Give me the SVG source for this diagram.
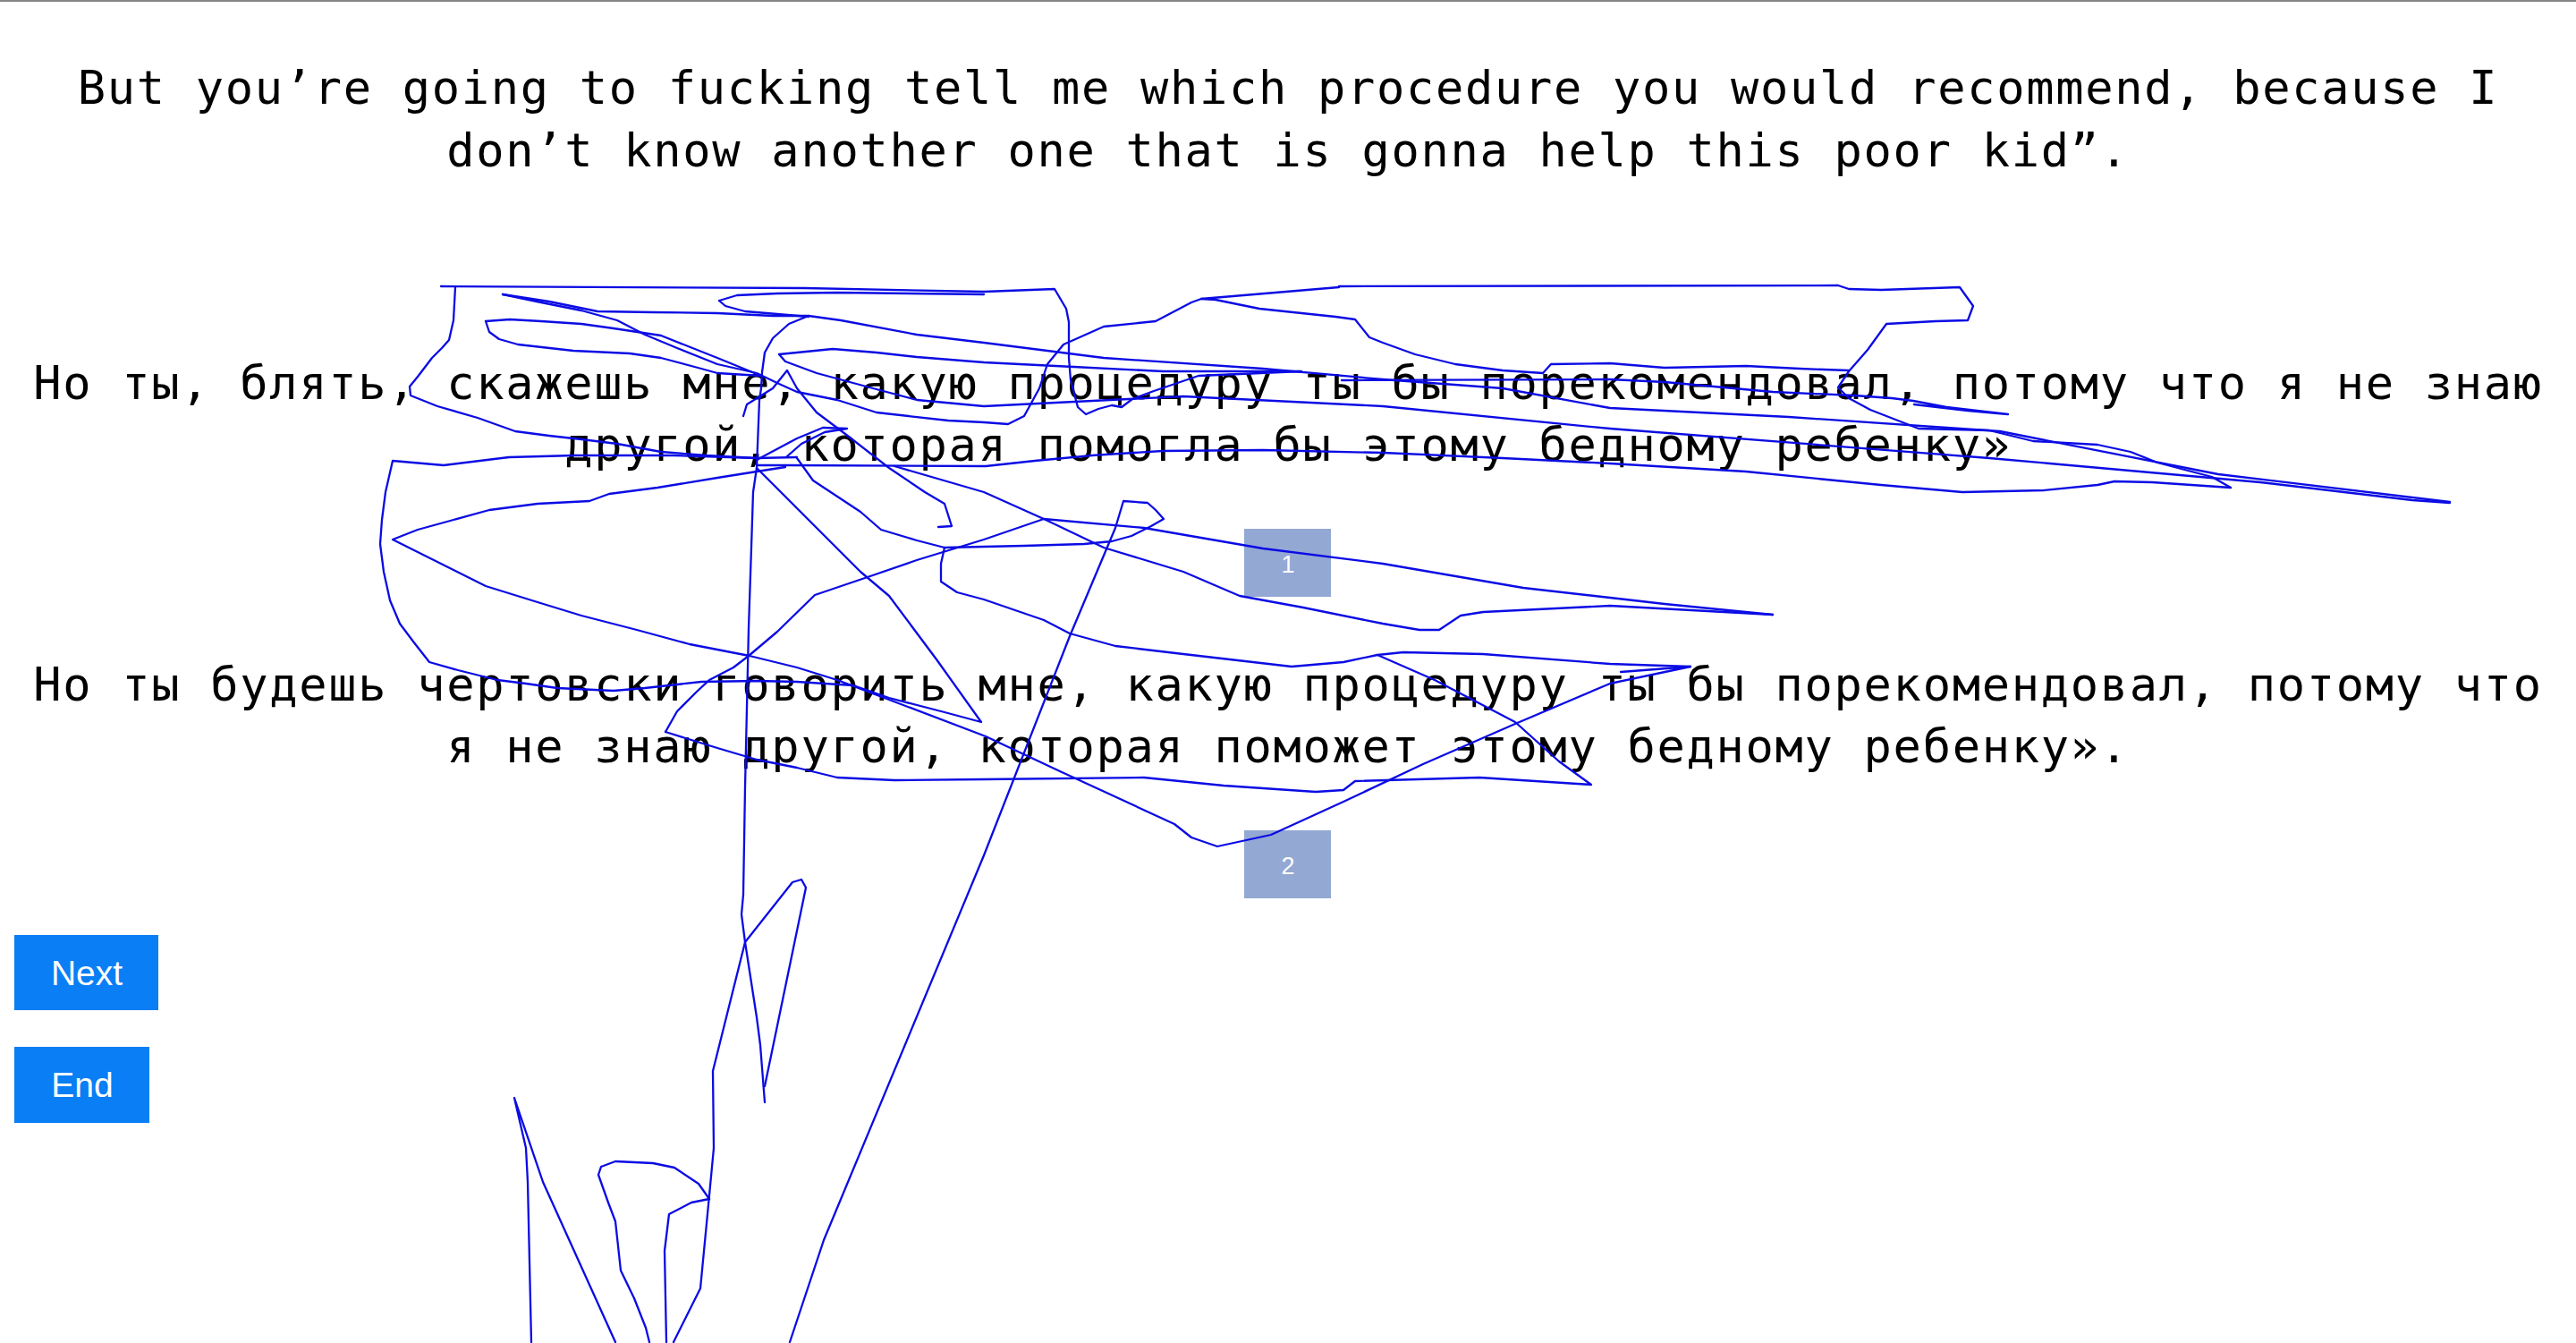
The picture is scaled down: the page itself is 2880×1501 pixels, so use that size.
<svg xmlns="http://www.w3.org/2000/svg" width="2880" height="1501" viewBox="0 0 2880 1501">
<style>
.t{font-family:"DejaVu Sans Mono","Liberation Mono",monospace;font-size:52px;letter-spacing:1.7px;fill:#000;text-anchor:middle}
.btn{fill:#0a7ef5}
.bt{font-family:"Liberation Sans",Arial,sans-serif;font-size:39px;fill:#fff;text-anchor:middle}
.box{fill:#93a8d3}
.bx{font-family:"Liberation Sans",Arial,sans-serif;font-size:27px;fill:#fff;text-anchor:middle}
.s{fill:none;stroke:#0b0be4;stroke-width:2.3;stroke-linejoin:round;stroke-linecap:round}
</style>
<rect x="0" y="0" width="2880" height="1501" fill="#fff"/>
<rect x="0" y="0" width="2880" height="2" fill="#858585"/>
<g id="texts">
<text class="t" x="1440" y="116">But you’re going to fucking tell me which procedure you would recommend, because I</text>
<text class="t" x="1440" y="186">don’t know another one that is gonna help this poor kid”.</text>
<text class="t" x="1440" y="446">Но ты, блять, скажешь мне, какую процедуру ты бы порекомендовал, потому что я не знаю</text>
<text class="t" x="1440" y="515">другой, которая помогла бы этому бедному ребенку»</text>
<text class="t" x="1440" y="783">Но ты будешь чертовски говорить мне, какую процедуру ты бы порекомендовал, потому что</text>
<text class="t" x="1440" y="852">я не знаю другой, которая поможет этому бедному ребенку».</text>
</g>
<g id="box1"><rect class="box" x="1391" y="591" width="97" height="76"/><text class="bx" x="1440" y="640">1</text></g>
<g id="box2"><rect class="box" x="1391" y="928" width="97" height="76"/><text class="bx" x="1440" y="977">2</text></g>
<g id="next"><rect class="btn" x="16" y="1045" width="161" height="84"/><text class="bt" x="97" y="1101">Next</text></g>
<g id="end"><rect class="btn" x="16" y="1170" width="151" height="85"/><text class="bt" x="92" y="1226">End</text></g>
<g id="scribble">
<path class="s" d="M493,320 L900,322 L1100,326 L1179,323 L1192,345 L1195,360 L1195,400 L1197,425 L1205,455 L1214,463 L1228,457 L1243,453 L1254,455 L1266,446 L1290,437 L1340,420 L1455,415"/>
<path class="s" d="M509,321 L507,358 L502,380 L494,389 L483,400 L467,421 L458,432 L459,442 L489,454 L534,467 L576,482 L614,487 L650,491 L690,496 L739,505 L790,509 L846,512 L891,511"/>
<path class="s" d="M846,512 L753,509 L643,509 L569,511 L496,520 L439,515 L431,550 L427,581 L425,608 L429,639 L436,671 L447,697 L462,717 L480,740 L512,749 L556,760 L588,764 L623,769 L686,772 L721,769 L757,765 L784,762 L846,761 L891,762 L954,766 L994,780 L1056,796 L1097,807 L1047,737 L994,666 L962,639 L913,590 L873,550 L846,523"/>
<path class="s" d="M846,520 L882,520 L1102,521 L1157,515 L1221,509 L1300,504 L1412,503 L1546,506 L1680,512 L1800,518 L1952,527 L2042,536 L2103,542 L2194,550 L2285,548 L2345,542 L2364,538 L2406,539 L2494,545"/>
<path class="s" d="M1497,320 L2055,319 L2067,323 L2103,324 L2191,321 L2206,342 L2200,358 L2164,359 L2109,362 L2088,391 L2067,415 L2055,433 L2067,445 L2091,458 L2145,479 L2224,481 L2273,493 L2345,497 L2382,505 L2412,517 L2473,533 L2494,545"/>
<path class="s" d="M878,522 L846,527 L802,534 L735,545 L681,552 L659,560 L601,563 L547,570 L507,581 L467,592 L439,603 L467,617 L503,635 L543,655 L601,673 L650,688 L712,704 L771,720 L838,733 L891,746 L936,760 L994,782 L1102,823 L1185,862 L1313,921 L1332,936 L1361,946 L1421,933 L1502,896 L1591,854 L1694,809 L1800,764 L1890,745 L1812,751"/>
<path class="s" d="M744,818 L757,795 L779,773 L793,760 L820,746 L837,733 L869,706 L911,665 L967,646 L1025,626 L1100,603 L1167,580 L1279,590 L1412,613 L1546,630 L1703,657 L1800,668 L1861,675 L1982,687"/>
<path class="s" d="M744,818 L802,836 L846,849 L891,858 L936,869 L1000,872 L1100,871 L1279,869 L1368,878 L1471,885 L1502,883 L1515,873 L1654,869 L1779,877 L1743,851 L1694,807 L1604,760 L1540,732 L1569,729 L1658,731 L1800,742 L1890,745"/>
<path class="s" d="M891,512 L909,537 L962,572 L985,592 L1025,604 L1056,612 L1100,611 L1145,610 L1212,608 L1243,605 L1265,599 L1287,588 L1301,580 L1292,570 L1283,562 L1256,560 L1247,590 L1196,711 L1100,956 L921,1386 L883,1500"/>
<path class="s" d="M1000,521 L1100,550 L1167,580 L1234,612 L1323,639 L1386,666 L1457,679 L1546,697 L1587,704 L1609,704 L1633,688 L1658,684 L1800,677 L1982,687"/>
<path class="s" d="M1056,612 L1052,630 L1052,650 L1070,662 L1100,670 L1167,693 L1196,708 L1247,722 L1323,731 L1444,745 L1502,740 L1540,732"/>
<path class="s" d="M904,353 L882,362 L864,378 L855,394 L852,416 L851,434 L849,447 L846,523 L842,550 L840,612 L837,702 L835,791 L833,880 L831,1000 L829,1022 L833,1053 L846,1137 L850,1168 L855,1232"/>
<path class="s" d="M855,1214 L901,992 L896,983 L886,986 L833,1053 L797,1197 L798,1283 L793,1336 L783,1440 L753,1500"/>
<path class="s" d="M793,1340 L781,1323 L754,1305 L730,1300 L688,1298 L672,1304 L669,1313 L680,1344 L688,1365 L694,1420 L709,1451 L722,1484 L726,1500"/>
<path class="s" d="M793,1340 L773,1344 L748,1357 L743,1398 L745,1500"/>
<path class="s" d="M594,1500 L590,1321 L588,1283 L575,1227 L607,1321 L688,1500"/>
<path class="s" d="M562,329 L614,337 L668,348 L730,349 L802,350 L864,353 L904,353 L940,358 L1025,374 L1100,383 L1234,400 L1412,412 L1546,424 L1680,434 L1800,456 L2000,466 L2236,482 L2480,530 L2739,561"/>
<path class="s" d="M562,329 L605,338 L650,347 L690,358 L721,374 L757,389 L802,407 L846,417 L871,429 L891,438 L936,447 L980,461 L1060,470 L1100,472 L1127,474 L1145,465 L1162,434 L1171,407 L1189,385 L1234,365 L1292,359 L1332,338 L1343,334 L1497,321"/>
<path class="s" d="M543,359 L570,357 L605,359 L650,362 L686,367 L739,375 L802,400 L851,420"/>
<path class="s" d="M543,359 L547,371 L558,379 L579,385 L641,392 L704,395 L739,400 L784,412 L802,417 L851,420"/>
<path class="s" d="M804,336 L824,330 L869,328 L936,327 L1100,329"/>
<path class="s" d="M804,336 L811,342 L833,348 L869,351 L904,354"/>
<path class="s" d="M871,396 L891,394 L931,390 L980,394 L1025,399 L1100,405 L1200,410 L1300,415 L1453,415"/>
<path class="s" d="M871,396 L878,404 L913,417 L976,434 L1025,447 L1100,454 L1323,443 L1546,454 L1800,479 L2224,512 L2527,539 L2697,559 L2739,562"/>
<path class="s" d="M1343,334 L1359,335 L1408,345 L1493,354 L1515,357 L1531,377 L1546,383 L1582,396 L1627,407 L1680,414 L1725,417 L1734,407 L1800,406 L1861,411 L1952,409 L2012,412 L2067,414"/>
<path class="s" d="M1500,425 L1800,424 L1861,427 L1982,438 L2073,442 L2115,445 L2139,448 L2176,455 L2245,463 L2200,459 L2140,452"/>
<path class="s" d="M831,465 L835,452 L864,434 L880,414 L891,434 L913,461 L949,488 L994,523 L1034,550 L1056,563 L1064,588 L1049,589"/>
<path class="s" d="M846,514 L891,490 L920,478 L947,479 L922,483 L896,496 L880,510"/>
</g>
</svg>
